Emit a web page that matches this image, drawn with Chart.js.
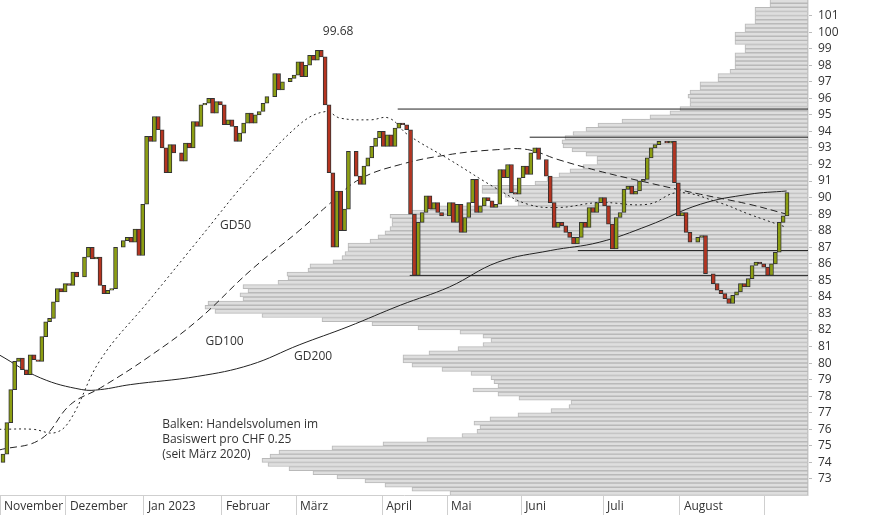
<!DOCTYPE html>
<html>
<head>
<meta charset="utf-8">
<script src="https://cdn.jsdelivr.net/npm/chart.js@4"></script>
<style>
  body { margin: 0; background: #fff; }
  #wrap { position: relative; width: 874px; height: 515px; }
  #wrap canvas { position: absolute; left: 0; top: 0; }
</style>
</head>
<body>
<div id="wrap">
  <canvas id="profile" width="874" height="515"></canvas>
  <canvas id="main" width="874" height="515"></canvas>
</div>
<script>
// daily closes, Nov 2022 - Aug 2023
const closes = [
  74.5, 76.4, 78.4, 80.1, 80.3, 79.6, 79.3, 80.5, 80.2, 80.1, 81.6, 82.5, 82.7, 83.7, 84.5, 84.3, 84.8, 84.7,
  85.5, 85.2, 85.2, 86.4, 87.0, 86.3, 86.4, 84.7, 84.2, 84.4, 84.5, 87.0, 87.0, 87.4, 87.6, 87.3, 88.1, 86.5,
  89.6, 93.7, 93.4, 94.9, 94.1, 93.0, 91.5, 93.2, 92.7, 92.7, 92.2, 93.3, 93.0, 94.6, 94.3, 95.6, 95.7, 96.0,
  95.1, 95.8, 95.6, 94.4, 94.7, 94.3, 93.4, 93.9, 94.5, 95.1, 94.5, 95.0, 95.2, 95.7, 96.1, 96.1, 97.5, 96.5,
  97.0, 97.0, 97.2, 97.4, 98.2, 97.3, 98.0, 98.6, 98.3, 98.9, 98.5, 95.6, 91.5, 87.0, 90.4, 88.0, 89.3, 92.8,
  92.8, 91.3, 90.8, 91.9, 92.4, 93.1, 93.6, 94.0, 93.1, 93.8, 93.1, 94.2, 94.5, 94.4, 94.1, 89.0, 85.3, 88.5,
  89.1, 90.1, 89.3, 89.7, 89.1, 88.9, 88.9, 89.7, 88.5, 89.6, 87.9, 88.8, 89.7, 91.1, 89.1, 89.5, 90.0, 89.8,
  89.4, 89.6, 91.7, 91.2, 92.0, 90.3, 90.2, 91.2, 91.9, 91.4, 92.7, 93.0, 92.3, 92.3, 91.3, 89.7, 88.2, 88.5,
  88.3, 87.9, 87.6, 87.2, 87.6, 88.5, 88.2, 89.4, 89.1, 89.7, 90.0, 89.5, 88.4, 86.9, 88.8, 89.1, 90.5, 90.7,
  90.2, 90.4, 91.0, 91.1, 92.4, 93.0, 93.2, 93.4, 93.4, 93.3, 93.4, 90.9, 88.9, 89.1, 87.9, 87.3, 87.3, 87.6,
  87.7, 85.4, 85.4, 84.8, 84.4, 84.2, 83.9, 83.6, 84.1, 84.3, 84.8, 84.6, 85.1, 85.9, 86.1, 86.0, 85.8, 85.3,
  86.0, 86.7, 88.5, 88.9, 90.3
];
const firstOpen = 74.0;

// moving averages as [day index, value]
const gd50 = [[-1,76.0],[7.7,76.0],[13.5,75.8],[17.4,76.6],[25.1,80.2],[37.7,83.8],[50.2,87.4],[63.8,91.3],[76.3,94.4],
  [83.1,95.2],[86.9,94.8],[94.7,94.7],[99.5,94.8],[104.3,93.8],[115,92.3],[127.5,90.5],[135.2,89.6],[143,89.4],
  [153.6,89.7],[166.2,89.6],[173.9,90.3],[184.5,89.7],[192.2,89.0],[201.9,88.2]];
const gd100 = [[-1,74.75],[9.7,75.4],[17.4,77.5],[25.1,78.5],[37.7,80.4],[50.2,82.6],[63.8,85.6],[76.3,88.0],[84,89.6],
  [91.8,91.1],[102.4,92.0],[115,92.6],[127.5,92.9],[135.2,92.9],[143,92.3],[153.6,91.6],[166.2,90.9],[179.7,90.2],
  [192.2,89.6],[201.9,89.0]];
const gd200 = [[-1,80.5],[9.7,79.1],[20.3,78.4],[25.1,78.4],[32.8,78.7],[50.2,79.2],[63.8,79.9],[76.3,81.1],[88.9,82.2],
  [102.4,83.5],[115,84.6],[127.5,86.1],[141,86.8],[153.6,87.3],[166.2,88.3],[179.7,89.6],[192.2,90.2],[201.9,90.4]];

// support / resistance lines: [start index, price]
const levels = [[101.7, 95.35], [135.7, 93.65], [148.1, 86.8], [104.8, 85.3]];

// volume profile per CHF 0.25, from 72.00 upwards
const profileStart = 72.0;
const profileVolume = [
  358, 396, 423, 443, 471, 495, 519, 540, 546, 538, 529, 476, 425, 381, 346, 331, 328, 334, 318, 290,
  257, 239, 237, 289, 310, 335, 310, 314, 317, 337, 366, 396, 405, 405, 379, 350, 325, 317, 325, 348,
  390, 436, 486, 546, 593, 603, 600, 565, 568, 560, 565, 530, 520, 521, 500, 498, 475, 466, 463, 460,
  460, 438, 430, 423, 418, 416, 416, 418, 398, 378, 290, 293, 303, 326, 326, 273, 261, 249, 238, 225,
  211, 211, 222, 236, 245, 246, 243, 235, 222, 210, 186, 158, 138, 128, 118, 118, 120, 118, 108, 108,
  90, 90, 78, 73, 73, 73, 73, 63, 63, 73, 73, 73, 63, 63, 53, 53, 53, 53, 38, 38
];

const monthStarts = [-0.77, 16.2, 36.3, 56.4, 75.5, 97.7, 114.4, 133.5, 154.6, 174.4, 196.3];
const monthNames = ['November', 'Dezember', 'Jan 2023', 'Februar', 'März', 'April', 'Mai', 'Juni', 'Juli', 'August', ''];
const yTicks = [73,74,75,76,77,78,79,80,81,82,83,84,85,86,87,88,89,90,91,92,93,94,95,96,97,98,99,100,101];

const notes = [
  { x: 82.4, y: 100.05, lines: ['99.68'] },
  { x: 55.9, y: 88.3, lines: ['GD50'] },
  { x: 52.2, y: 81.3, lines: ['GD100'] },
  { x: 75.0, y: 80.4, lines: ['GD200'] },
  { x: 41.0, y: 76.3, lines: ['Balken: Handelsvolumen im', 'Basiswert pro CHF 0.25', '(seit März 2020)'] }
];

const Y_MIN = 72.03, Y_MAX = 101.94;
const FONT = '"Open Sans", "DejaVu Sans", sans-serif';
const pxPer = 784 / (closes.length - 1);
const X_MIN = -3 / pxPer, X_MAX = 805 / pxPer;

// ---- volume profile (behind) ----
new Chart(document.getElementById('profile'), {
  type: 'bar',
  data: {
    datasets: [{
      data: profileVolume.map((v, i) => ({ x: v, y: profileStart + i * 0.25 + 0.125 })),
      backgroundColor: '#dedede',
      borderColor: '#b9b9b9',
      borderWidth: 1,
      borderSkipped: false,
      barThickness: 4
    }]
  },
  options: {
    indexAxis: 'y',
    responsive: false,
    animation: false,
    layout: { padding: { left: 0, right: 66, top: 0, bottom: 20 } },
    plugins: { legend: { display: false }, tooltip: { enabled: false } },
    scales: {
      x: { type: 'linear', reverse: true, min: 0, max: 808, offset: false, display: false },
      y: { type: 'linear', min: Y_MIN, max: Y_MAX, offset: false, display: false }
    }
  }
});

// ---- price chart (front) ----
const candles = closes.map((c, i) => {
  const o = i === 0 ? firstOpen : closes[i - 1];
  return { x: i, y: [o, c] };
});
const candleColors = candles.map((d) => (d.y[1] >= d.y[0] ? '#8c9e12' : '#b53420'));

const toPts = (arr) => arr.map(([x, y]) => ({ x, y }));
const maLine = (arr, dash) => ({
  type: 'line',
  data: toPts(arr),
  borderColor: '#222',
  borderWidth: 1,
  borderDash: dash,
  pointRadius: 0,
  tension: 0.4,
  order: 2
});

const levelSets = levels.map(([x0, y]) => ({
  type: 'line',
  data: [{ x: x0, y }, { x: X_MAX, y }],
  borderColor: '#222',
  borderWidth: 1,
  pointRadius: 0,
  order: 3
}));

const notesPlugin = {
  id: 'notes',
  afterDatasetsDraw(chart) {
    const { ctx, scales } = chart;
    ctx.save();
    ctx.font = '12px ' + FONT;
    ctx.fillStyle = '#333';
    ctx.textBaseline = 'middle';
    notes.forEach((n) => {
      const px = scales.x.getPixelForValue(n.x);
      const py = scales.y.getPixelForValue(n.y);
      n.lines.forEach((t, k) => ctx.fillText(t, px, py + k * 15));
    });
    ctx.restore();
  }
};

const noPad = (s) => { s.paddingLeft = 0; s.paddingRight = 0; s.paddingTop = 0; s.paddingBottom = 0; };

new Chart(document.getElementById('main'), {
  type: 'bar',
  data: {
    datasets: [
      {
        type: 'bar',
        data: candles,
        backgroundColor: candleColors,
        borderColor: '#333',
        borderWidth: 1,
        borderSkipped: false,
        barThickness: 4,
        order: 1
      },
      maLine(gd50, [2, 3]),
      maLine(gd100, [7, 4]),
      maLine(gd200, []),
      ...levelSets
    ]
  },
  options: {
    responsive: false,
    animation: false,
    layout: { padding: 0 },
    plugins: { legend: { display: false }, tooltip: { enabled: false } },
    scales: {
      x: {
        type: 'linear',
        min: X_MIN,
        max: X_MAX,
        offset: false,
        afterFit: (s) => { s.height = 20; noPad(s); },
        afterBuildTicks: (s) => { s.ticks = monthStarts.map((v) => ({ value: v })); },
        grid: { drawOnChartArea: false, tickLength: 20, color: '#cfcfcf', offset: false },
        border: { color: '#cfcfcf' },
        ticks: {
          align: 'start',
          padding: -16,
          labelOffset: 4,
          maxRotation: 0,
          autoSkip: false,
          color: '#333',
          font: { family: FONT, size: 12 },
          callback: (v, i) => monthNames[i]
        }
      },
      y: {
        type: 'linear',
        position: 'right',
        min: Y_MIN,
        max: Y_MAX,
        offset: false,
        afterFit: (s) => { s.width = 66; noPad(s); },
        afterBuildTicks: (s) => { s.ticks = yTicks.map((v) => ({ value: v })); },
        grid: { drawOnChartArea: false, tickLength: 4, color: '#bbb' },
        border: { color: '#e4e4e4' },
        ticks: { color: '#333', padding: 6, autoSkip: false, font: { family: FONT, size: 12 } }
      }
    }
  },
  plugins: [notesPlugin]
});
</script>
</body>
</html>
